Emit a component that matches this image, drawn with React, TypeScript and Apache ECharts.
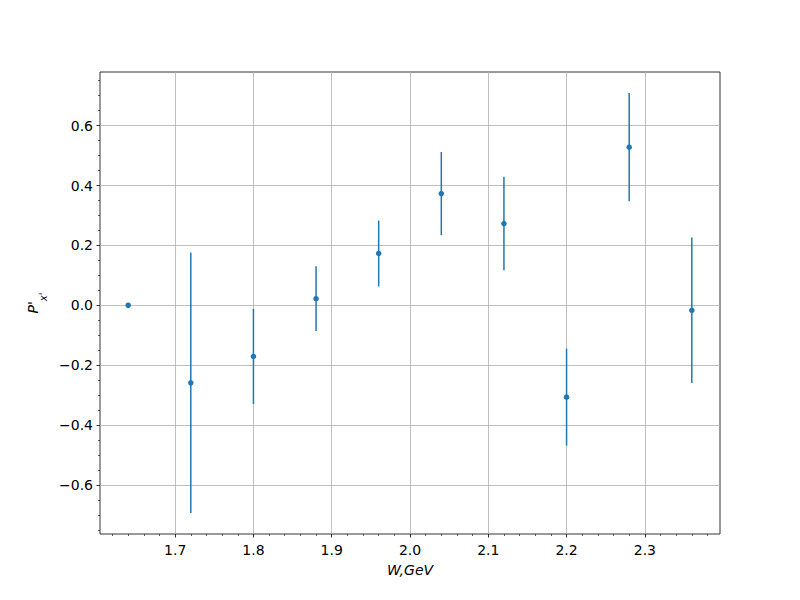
import React, { useEffect, useRef } from "react";
import * as echarts from "echarts";

const W_VALUES = [1.64, 1.72, 1.8, 1.88, 1.96, 2.04, 2.12, 2.2, 2.28, 2.36];
const P_VALUES = [0.0, -0.259, -0.171, 0.022, 0.173, 0.373, 0.273, -0.307, 0.528, -0.017];
const P_ERRORS = [0.0, 0.435, 0.159, 0.108, 0.11, 0.139, 0.156, 0.162, 0.181, 0.243];

const X_MAJOR = [1.7, 1.8, 1.9, 2.0, 2.1, 2.2, 2.3];
const X_MINOR = [
  1.62, 1.64, 1.66, 1.68, 1.72, 1.74, 1.76, 1.78, 1.82, 1.84, 1.86, 1.88,
  1.92, 1.94, 1.96, 1.98, 2.02, 2.04, 2.06, 2.08, 2.12, 2.14, 2.16, 2.18,
  2.22, 2.24, 2.26, 2.28, 2.32, 2.34, 2.36, 2.38,
];
const Y_MAJOR = [-0.6, -0.4, -0.2, 0.0, 0.2, 0.4, 0.6];
const Y_MINOR = [
  -0.75, -0.7, -0.65, -0.55, -0.5, -0.45, -0.35, -0.3, -0.25, -0.15, -0.1,
  -0.05, 0.05, 0.1, 0.15, 0.25, 0.3, 0.35, 0.45, 0.5, 0.55, 0.65, 0.7, 0.75,
];

const BLUE = "#1f77b4";
const FONT = "DejaVu Sans";

export default function App() {
  const ref = useRef<HTMLDivElement>(null);

  useEffect(() => {
    if (!ref.current) return;
    const chart = echarts.init(ref.current, null, { renderer: "svg" });

    const lows = P_VALUES.map((p, i) => p - P_ERRORS[i]);
    const highs = P_VALUES.map((p, i) => p + P_ERRORS[i]);
    const xMinD = Math.min(...W_VALUES);
    const xMaxD = Math.max(...W_VALUES);
    const yMinD = Math.min(...lows);
    const yMaxD = Math.max(...highs);
    const xm = (xMaxD - xMinD) * 0.05;
    const ym = (yMaxD - yMinD) * 0.05;
    const xMin = xMinD - xm;
    const xMax = xMaxD + xm;
    const yMin = yMinD - ym;
    const yMax = yMaxD + ym;

    const baseX = {
      type: "value",
      min: xMin,
      max: xMax,
      position: "bottom",
      gridIndex: 0,
      axisLine: { show: false, onZero: false },
    };
    const baseY = {
      type: "value",
      min: yMin,
      max: yMax,
      position: "left",
      gridIndex: 0,
      axisLine: { show: false, onZero: false },
    };

    chart.setOption({
      animation: false,
      backgroundColor: "#ffffff",
      grid: {
        left: 100,
        right: 80,
        top: 72,
        bottom: 66,
        show: true,
        borderColor: "#000000",
        borderWidth: 0.8,
        backgroundColor: "#ffffff",
        z: 0,
      },
      xAxis: [
        {
          ...baseX,
          axisTick: {
            show: true,
            length: 3.5,
            customValues: X_MAJOR,
            lineStyle: { color: "#000", width: 0.8 },
          },
          axisLabel: {
            show: true,
            customValues: X_MAJOR,
            margin: 9,
            color: "#000",
            fontSize: 14,
            fontFamily: FONT,
            formatter: (v: number) => v.toFixed(1),
          },
          splitLine: { show: true, lineStyle: { color: "#b0b0b0", width: 0.8 } },
          name: "{i|W,GeV}",
          nameLocation: "middle",
          nameGap: 29,
          nameTextStyle: {
            rich: { i: { fontStyle: "italic", fontSize: 14, fontFamily: FONT, color: "#000" } },
          },
        },
        {
          ...baseX,
          axisTick: {
            show: true,
            length: 2,
            customValues: X_MINOR,
            lineStyle: { color: "#000", width: 0.6 },
          },
          axisLabel: { show: false },
          splitLine: { show: false },
        },
      ],
      yAxis: [
        {
          ...baseY,
          axisTick: {
            show: true,
            length: 3.5,
            customValues: Y_MAJOR,
            lineStyle: { color: "#000", width: 0.8 },
          },
          axisLabel: {
            show: true,
            customValues: Y_MAJOR,
            margin: 7,
            color: "#000",
            fontSize: 14,
            fontFamily: FONT,
            formatter: (v: number) => (Math.abs(v) < 1e-9 ? "0.0" : v.toFixed(1).replace("-", "\u2212")),
          },
          splitLine: { show: true, lineStyle: { color: "#b0b0b0", width: 0.8 } },
          name: "{p|P'}{s|x'}",
          nameLocation: "middle",
          nameGap: 46,
          nameRotate: 90,
          nameTextStyle: {
            rich: {
              p: { fontStyle: "italic", fontSize: 14, fontFamily: FONT, color: "#000", lineHeight: 22, verticalAlign: "top" },
              s: { fontStyle: "italic", fontSize: 10, fontFamily: FONT, color: "#000", lineHeight: 22, verticalAlign: "bottom", padding: [6, 0, 0, 0] },
            },
          },
        },
        {
          ...baseY,
          axisTick: {
            show: true,
            length: 2,
            customValues: Y_MINOR,
            lineStyle: { color: "#000", width: 0.6 },
          },
          axisLabel: { show: false },
          splitLine: { show: false },
        },
      ],
      series: [
        {
          type: "custom",
          xAxisIndex: 0,
          yAxisIndex: 0,
          z: 3,
          data: W_VALUES.map((w, i) => [w, lows[i], highs[i]]),
          encode: { x: 0, y: [1, 2] },
          renderItem: (params: any, api: any) => {
            const x = api.value(0);
            const p1 = api.coord([x, api.value(1)]);
            const p2 = api.coord([x, api.value(2)]);
            return {
              type: "line",
              shape: { x1: p1[0], y1: p1[1], x2: p2[0], y2: p2[1] },
              style: { stroke: BLUE, lineWidth: 1.5 },
            };
          },
        },
        {
          type: "scatter",
          xAxisIndex: 0,
          yAxisIndex: 0,
          z: 4,
          symbol: "circle",
          symbolSize: 5.5,
          itemStyle: { color: BLUE, opacity: 1 },
          data: W_VALUES.map((w, i) => [w, P_VALUES[i]]),
        },
      ],
    });

    return () => chart.dispose();
  }, []);

  return (
    <div
      ref={ref}
      style={{ position: "absolute", left: 0, top: 0, width: 800, height: 600, background: "#fff" }}
    />
  );
}
